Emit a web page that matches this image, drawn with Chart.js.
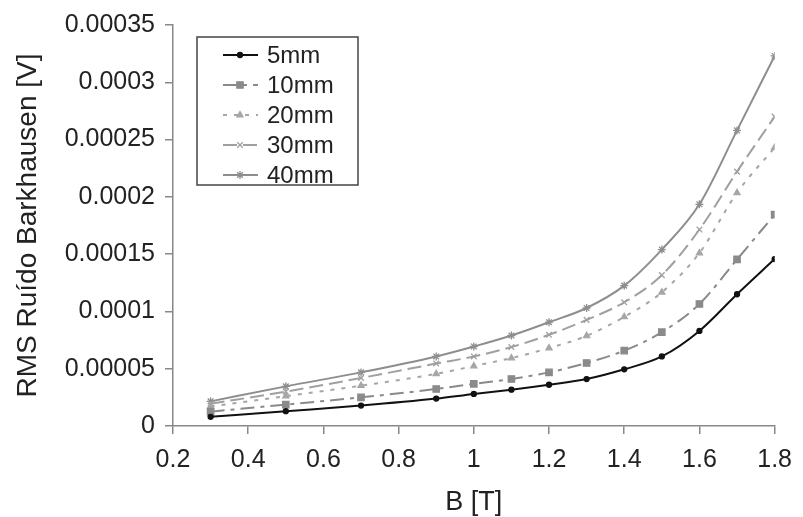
<!DOCTYPE html>
<html>
<head>
<meta charset="utf-8">
<script src="https://cdn.jsdelivr.net/npm/chart.js@4.4.0/dist/chart.umd.min.js"></script>
<style>
  html, body { margin: 0; padding: 0; background: #ffffff; }
  #wrap { width: 803px; height: 517px; }
</style>
</head>
<body>
<div id="wrap"><canvas id="c" width="803" height="517"></canvas></div>
<script>
// ---- data ----
const bValues = [0.3, 0.5, 0.7, 0.9, 1.0, 1.1, 1.2, 1.3, 1.4, 1.5, 1.6, 1.7, 1.8];
const seriesNames = ['5mm', '10mm', '20mm', '30mm', '40mm'];
const rms5mm  = [0.0000080, 0.0000129, 0.0000178, 0.0000239, 0.0000280, 0.0000317, 0.0000360, 0.0000410, 0.0000495, 0.0000607, 0.0000830, 0.0001150, 0.0001457];
const rms10mm = [0.0000125, 0.0000187, 0.0000250, 0.0000323, 0.0000368, 0.0000410, 0.0000468, 0.0000550, 0.0000658, 0.0000819, 0.0001065, 0.0001454, 0.0001845];
const rms20mm = [0.0000170, 0.0000260, 0.0000352, 0.0000455, 0.0000523, 0.0000593, 0.0000680, 0.0000787, 0.0000953, 0.0001167, 0.0001510, 0.0002036, 0.0002430];
const rms30mm = [0.0000195, 0.0000300, 0.0000419, 0.0000545, 0.0000607, 0.0000689, 0.0000796, 0.0000926, 0.0001080, 0.0001317, 0.0001715, 0.0002220, 0.0002700];
const rms40mm = [0.0000215, 0.0000346, 0.0000468, 0.0000607, 0.0000694, 0.0000790, 0.0000906, 0.0001030, 0.0001225, 0.0001540, 0.0001935, 0.0002580, 0.0003230];
const xTickLabels = ['0.2', '0.4', '0.6', '0.8', '1', '1.2', '1.4', '1.6', '1.8'];
const yTickLabels = ['0', '0.00005', '0.0001', '0.00015', '0.0002', '0.00025', '0.0003', '0.00035'];
const xTitle = 'B [T]';
const yTitle = 'RMS Ruído Barkhausen [V]';

// ---- styling ----
const FONT = '"Liberation Sans", Arial, Helvetica, sans-serif';
const styles = [
  { color: '#111111', dash: [],            point: 'circle',   radius: 2.5, width: 2 },
  { color: '#8a8a8a', dash: [14, 6, 4, 6], point: 'rect',     radius: 4.5, width: 2 },
  { color: '#a6a6a6', dash: [4, 7],        point: 'triangle', radius: 3.5, width: 2 },
  { color: '#a0a0a0', dash: [14, 6],       point: 'crossRot', radius: 4,   width: 2 },
  { color: '#8e8e8e', dash: [],            point: 'star',     radius: 4,   width: 2 }
];
const seriesValues = [rms5mm, rms10mm, rms20mm, rms30mm, rms40mm];

const datasets = seriesNames.map((name, i) => ({
  label: name,
  data: bValues.map((b, j) => ({ x: b, y: seriesValues[i][j] })),
  borderColor: styles[i].color,
  backgroundColor: styles[i].color,
  borderWidth: styles[i].width,
  borderDash: styles[i].dash,
  pointStyle: styles[i].point,
  pointRadius: styles[i].radius,
  pointBorderWidth: 1.3,
  pointBackgroundColor: styles[i].color,
  pointBorderColor: styles[i].color,
  cubicInterpolationMode: 'monotone',
  fill: false
}));

const legendBox = {
  id: 'legendBox',
  afterDatasetsDraw(chart) {
    const ctx = chart.ctx;
    const bx = 197, by = 37, bw = 161, bh = 148;
    ctx.save();
    ctx.fillStyle = '#ffffff';
    ctx.fillRect(bx, by, bw, bh);
    ctx.strokeStyle = '#444444';
    ctx.lineWidth = 1.5;
    ctx.strokeRect(bx, by, bw, bh);
    chart.data.datasets.forEach((ds, i) => {
      const y = by + 18 + i * 30;
      ctx.save();
      ctx.strokeStyle = ds.borderColor;
      ctx.lineWidth = ds.borderWidth;
      ctx.setLineDash(ds.borderDash || []);
      ctx.beginPath();
      ctx.moveTo(223, y);
      ctx.lineTo(258, y);
      ctx.stroke();
      ctx.setLineDash([]);
      ctx.fillStyle = ds.pointBackgroundColor;
      ctx.strokeStyle = ds.pointBorderColor;
      ctx.lineWidth = ds.pointBorderWidth;
      if (Chart.helpers && Chart.helpers.drawPoint) {
        Chart.helpers.drawPoint(ctx, { pointStyle: ds.pointStyle, radius: ds.pointRadius, rotation: 0, borderWidth: ds.pointBorderWidth }, 240, y);
      } else {
        ctx.beginPath(); ctx.arc(240, y, 3, 0, Math.PI * 2); ctx.fill();
      }
      ctx.restore();
      ctx.fillStyle = '#222222';
      ctx.font = '24px ' + FONT;
      ctx.textBaseline = 'middle';
      ctx.textAlign = 'left';
      ctx.fillText(ds.label, 267, y + 1);
    });
    ctx.restore();
  }
};

new Chart(document.getElementById('c'), {
  type: 'line',
  data: { datasets },
  options: {
    responsive: false,
    animation: false,
    devicePixelRatio: 1,
    layout: { padding: { left: 0, right: 24, top: 24, bottom: 0 } },
    plugins: { legend: { display: false }, tooltip: { enabled: false } },
    scales: {
      x: {
        type: 'linear',
        position: 'bottom',
        min: 0.2,
        max: 1.8,
        afterFit: (s) => { s.height = 91; },
        afterBuildTicks: (s) => { s.ticks = xTickLabels.map(t => ({ value: parseFloat(t) })); },
        ticks: {
          autoSkip: false,
          maxRotation: 0,
          padding: 11,
          color: '#222222',
          font: { family: FONT, size: 25 },
          callback: (v) => xTickLabels.find(t => Math.abs(parseFloat(t) - v) < 1e-9) || ''
        },
        grid: { drawOnChartArea: false, drawTicks: true, tickLength: 8, color: '#888888', lineWidth: 1.5 },
        border: { display: true, color: '#888888', width: 1.5 },
        title: { display: true, text: xTitle, color: '#222222', font: { family: FONT, size: 27 }, padding: { top: 0, bottom: -2 } }
      },
      y: {
        type: 'linear',
        min: 0,
        max: 0.00035,
        afterFit: (s) => { s.width = 173; },
        afterBuildTicks: (s) => { s.ticks = yTickLabels.map(t => ({ value: parseFloat(t) })); },
        ticks: {
          autoSkip: false,
          padding: 10,
          color: '#222222',
          font: { family: FONT, size: 25 },
          callback: (v) => yTickLabels.find(t => Math.abs(parseFloat(t) - v) < 1e-12) || ''
        },
        grid: { drawOnChartArea: false, drawTicks: true, tickLength: 8, color: '#888888', lineWidth: 1.5 },
        border: { display: true, color: '#888888', width: 1.5 },
        title: { display: true, text: yTitle, color: '#222222', font: { family: FONT, size: 28 }, padding: { top: 11, bottom: 0 } }
      }
    }
  },
  plugins: [legendBox]
});
</script>
</body>
</html>
